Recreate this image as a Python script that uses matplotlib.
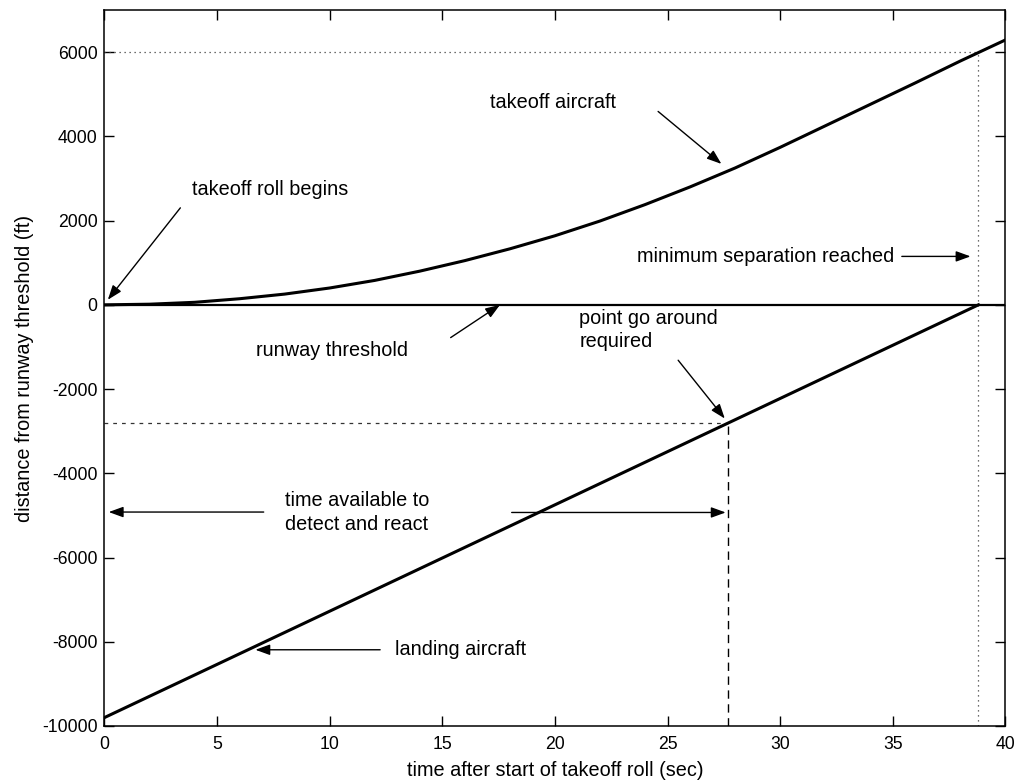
import matplotlib
matplotlib.use('Agg')
import matplotlib.pyplot as plt

# ---- data ----
takeoff_t = [0, 2, 4, 6, 8, 10, 12, 14, 16, 18, 20, 22, 24, 26, 28, 30, 32, 34, 36, 38, 40]
takeoff_d = [0, 15, 60, 145, 255, 400, 580, 800, 1050, 1330, 1640, 1990, 2380, 2800,
             3250, 3740, 4250, 4760, 5270, 5790, 6290]
landing_t = [0, 38.8]
landing_d = [-9800, 0]
threshold_t = [0, 40]
threshold_d = [0, 0]

min_sep_t = 38.8      # minimum separation reached
min_sep_d = 6000
go_around_t = 27.7    # point go around required
go_around_d = -2800

x_ticks = [0, 5, 10, 15, 20, 25, 30, 35, 40]
y_ticks = [-10000, -8000, -6000, -4000, -2000, 0, 2000, 4000, 6000]
x_lim = (0, 40)
y_lim = (-10000, 7000)

# ---- style ----
plt.rcParams['font.family'] = ['Liberation Sans', 'DejaVu Sans']
plt.rcParams['axes.unicode_minus'] = False
FS_TICK = 12.7
FS = 14.3

fig = plt.figure(figsize=(10.22, 7.83), dpi=100)
ax = fig.add_axes([0.1022, 0.0728, 0.8816, 0.9144])

# reference lines
ax.plot([x_lim[0], min_sep_t], [min_sep_d, min_sep_d], ls=(0, (1, 3)), color='0.25', lw=0.9)
ax.plot([min_sep_t, min_sep_t], [y_lim[0], min_sep_d], ls=(0, (1, 3)), color='0.25', lw=0.9)
ax.plot([x_lim[0], go_around_t], [go_around_d, go_around_d], ls=(0, (3, 4)), color='0.2', lw=0.9)
ax.plot([go_around_t, go_around_t], [y_lim[0], go_around_d], ls=(0, (6, 4)), color='k', lw=1.0)

# main curves
ax.plot(threshold_t, threshold_d, color='k', lw=1.6)
ax.plot(takeoff_t, takeoff_d, color='k', lw=2.2)
ax.plot(landing_t, landing_d, color='k', lw=2.2)

ax.set_xlim(*x_lim)
ax.set_ylim(*y_lim)
ax.set_xticks(x_ticks)
ax.set_yticks(y_ticks)
ax.tick_params(axis='both', direction='in', length=7, width=1, top=True, right=True,
               labelsize=FS_TICK, colors='k')
ax.tick_params(axis='x', pad=7)
ax.tick_params(axis='y', pad=5)
for s in ax.spines.values():
    s.set_linewidth(1.1)

ax.set_xlabel('time after start of takeoff roll (sec)', fontsize=FS, labelpad=6)
ax.set_ylabel('distance from runway threshold (ft)', fontsize=FS, labelpad=6)

arrow_kw = dict(arrowstyle='-|>,head_length=0.55,head_width=0.2', color='k', lw=1.0,
                mutation_scale=16, shrinkA=0, shrinkB=0)

def arrow(start, tip):
    ax.annotate('', xy=tip, xytext=start, arrowprops=arrow_kw)

# annotations
ax.text(3.89, 2737, 'takeoff roll begins', fontsize=FS, ha='left', va='center')
arrow((3.37, 2303), (0.15, 120))

ax.text(17.1, 4810, 'takeoff aircraft', fontsize=FS, ha='left', va='center')
arrow((24.58, 4592), (27.39, 3346))

ax.text(23.64, 1150, 'minimum separation reached', fontsize=FS, ha='left', va='center')
arrow((35.4, 1150), (38.45, 1150))

ax.text(6.74, -1095, 'runway threshold', fontsize=FS, ha='left', va='center')
arrow((15.37, -778), (17.56, 0))

ax.text(21.08, -592, 'point go around\nrequired', fontsize=FS, ha='left', va='center',
        linespacing=1.27)
arrow((25.47, -1315), (27.54, -2700))

ax.text(8.03, -4925, 'time available to\ndetect and react', fontsize=FS, ha='left',
        va='center', linespacing=1.3)
arrow((7.07, -4920), (0.19, -4920))
arrow((18.08, -4930), (27.58, -4930))

ax.text(12.9, -8190, 'landing aircraft', fontsize=FS, ha='left', va='center')
arrow((12.24, -8190), (6.7, -8190))

fig.savefig('out.png', dpi=100)
